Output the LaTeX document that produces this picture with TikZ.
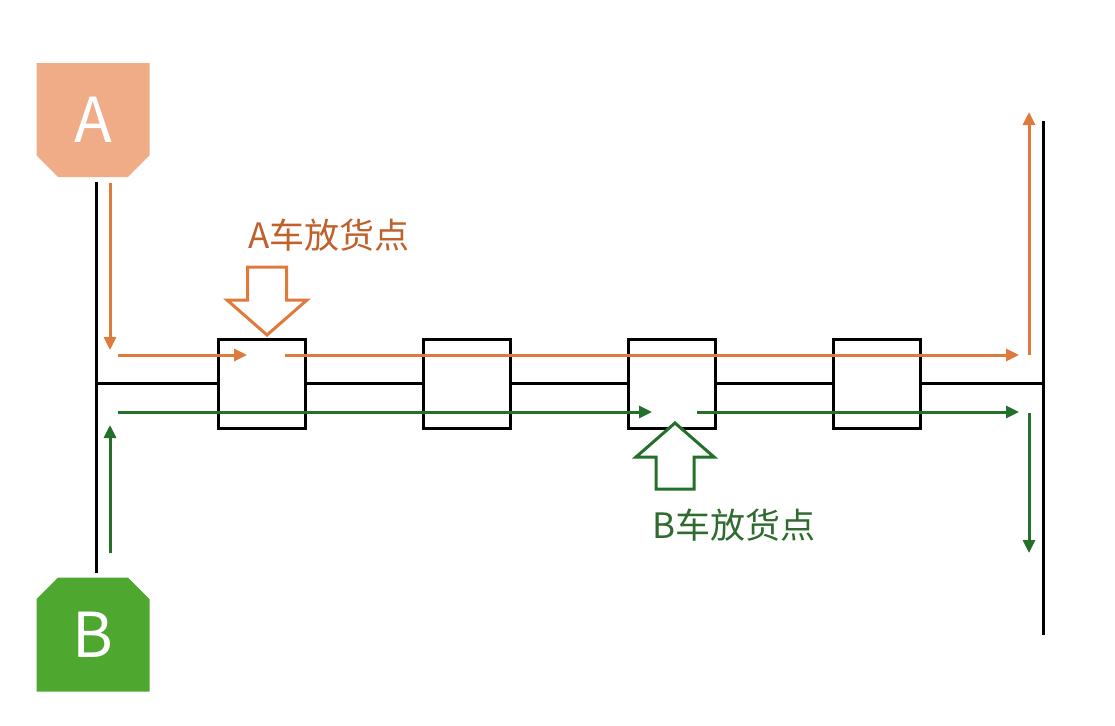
\documentclass[tikz,border=0pt]{standalone}
\usepackage{fontspec}
\setmainfont{Noto Sans CJK SC}
\usetikzlibrary{shapes.misc,arrows.meta}
\definecolor{carA}{HTML}{F0AB87}
\definecolor{carB}{HTML}{4EA72E}
\definecolor{routeA}{HTML}{E07A3C}
\definecolor{routeB}{HTML}{22702A}
\definecolor{textA}{HTML}{C0602A}
\definecolor{textB}{HTML}{2F6B2F}
\tikzset{
	car/.style={chamfered rectangle, chamfered rectangle xsep=18pt, fill=#1, draw=none,
		minimum width=113pt, minimum height=114pt, inner sep=0pt, outer sep=0pt,
		text=white, font=\fontsize{62}{62}\selectfont},
	station/.style={draw, line width=3pt, fill=white, minimum width=87pt, minimum height=89pt, inner sep=0pt},
	rail/.style={line width=3pt, black},
	route/.style={line width=3pt, draw=#1, -{Triangle[length=13pt,width=12pt]}},
	drop/.style={line width=3pt, draw=#1, fill=white, line join=miter},
	droplabel/.style={text=#1, font=\fontsize{35}{35}\selectfont, inner sep=0pt}
}
\begin{document}
\begin{tikzpicture}[x=1pt,y=-1pt]
	\useasboundingbox (0,0) rectangle (1115,725);
	% cars
	\node [car=carA, chamfered rectangle corners={south west,south east}] (A) at (93,120) {A};
	\node [car=carB, chamfered rectangle corners={north west,north east}] (B) at (93,634.5) {B};
	% rails
	\coordinate (leftTop) at (96,182);
	\coordinate (leftBot) at (96,573);
	\coordinate (rightTop) at (1043,121);
	\coordinate (rightBot) at (1043,635);
	\draw [rail] (leftTop) -- (leftBot);
	\draw [rail] (rightTop) -- (rightBot);
	\draw [rail] (leftTop |- 0,383) -- (rightTop |- 0,383);
	% stations
	\foreach \i/\x in {1/262,2/467,3/672,4/877}
		\node [station] (s\i) at (\x,384) {};
	% route of car A
	\coordinate (aIn) at (110,183);
	\coordinate (aCorner) at (110,350);
	\coordinate (aStart) at (118,355);
	\coordinate (aStop) at (247,355);
	\coordinate (aGo) at (285,355);
	\coordinate (aEnd) at (1019,355);
	\coordinate (aUp) at (1029,355);
	\coordinate (aOut) at (1029,112);
	\draw [route=routeA] (aIn) -- (aCorner);
	\draw [route=routeA] (aStart) -- (aStop);
	\draw [route=routeA] (aGo) -- (aEnd);
	\draw [route=routeA] (aUp) -- (aOut);
	% route of car B
	\coordinate (bIn) at (110,553);
	\coordinate (bCorner) at (110,425);
	\coordinate (bStart) at (118,412);
	\coordinate (bStop) at (652,412);
	\coordinate (bGo) at (697,412);
	\coordinate (bEnd) at (1019,412);
	\coordinate (bDown) at (1029,413);
	\coordinate (bOut) at (1029,553);
	\draw [route=routeB] (bIn) -- (bCorner);
	\draw [route=routeB] (bStart) -- (bStop);
	\draw [route=routeB] (bGo) -- (bEnd);
	\draw [route=routeB] (bDown) -- (bOut);
	% drop points
	\coordinate (dropA) at (267,335);
	\draw [drop=routeA] (dropA) -- ++(-40,-35) -- ++(20.5,0) -- ++(0,-33) -- ++(39,0)
		-- ++(0,33) -- ++(20.5,0) -- cycle;
	\node [droplabel=textA] (labelA) at (329,235) {A车放货点};
	\coordinate (dropB) at (675,423);
	\draw [drop=routeB] (dropB) -- ++(-39,34) -- ++(20,0) -- ++(0,32) -- ++(38,0)
		-- ++(0,-32) -- ++(20,0) -- cycle;
	\node [droplabel=textB] (labelB) at (734,525) {B车放货点};
\end{tikzpicture}
\end{document}
